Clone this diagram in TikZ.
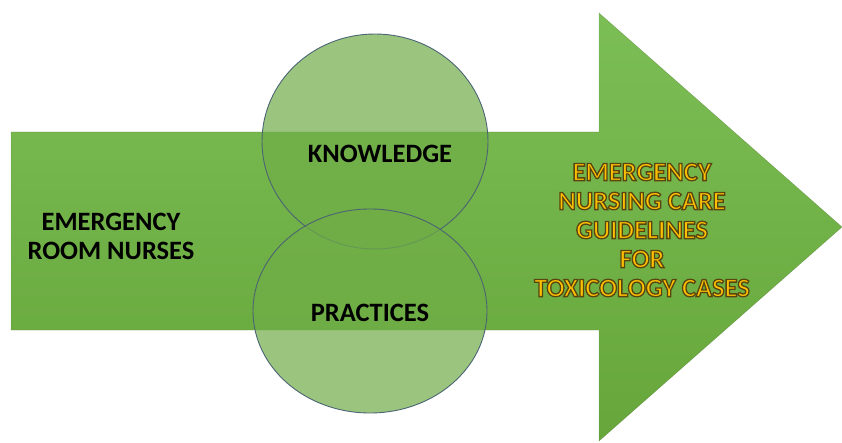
\documentclass[tikz,border=0pt]{standalone}
\usepackage{fontspec}
\setmainfont{Carlito}
\usetikzlibrary{shapes.geometric}

\definecolor{arrowtop}{RGB}{124,190,86}
\definecolor{arrowbot}{RGB}{102,166,58}
\definecolor{ringfill}{RGB}{112,173,71}
\definecolor{ringline}{RGB}{75,100,115}
\definecolor{gold}{RGB}{255,192,0}

% filled letters with a dark brown stroke round them
\newcommand{\goldline}[1]{\special{pdf:literal direct 2 Tr 1.3 w 0.35 0.27 0.06 RG}#1\special{pdf:literal direct 0 Tr}}

\begin{document}
\begin{tikzpicture}[x=1pt, y=-1pt,
every node/.style={font=\fontsize{26.5}{29}\selectfont\bfseries, align=center},
ring/.style={ellipse, draw=ringline, line width=0.9pt, fill=ringfill, fill opacity=0.7, inner sep=0pt}
]
\useasboundingbox (0,0) rectangle (842,443);

% block arrow
\shade[top color=arrowtop, bottom color=arrowbot, draw=arrowbot!60!black, draw opacity=0.4]
  (11,132) -- (599,132) -- (599,13) -- (842,227) -- (599,441) -- (599,330) -- (11,330) -- cycle;

% the two rings
\node[ring, minimum width=226, minimum height=215] (know) at (375,141.5) {};
\node[ring, minimum width=234, minimum height=204] (prac) at (370,311) {};

\node (knowtext) at (380,154) {KNOWLEDGE};
\node (practext) at (370,313) {PRACTICES};

\node (nurses) at (111,236) {EMERGENCY\\ROOM NURSES};

\node[text=gold] (guide) at (642,230)
{\goldline{EMERGENCY}\\\goldline{NURSING CARE}\\\goldline{GUIDELINES}\\
\goldline{FOR}\\\goldline{TOXICOLOGY CASES}};

\end{tikzpicture}
\end{document}
